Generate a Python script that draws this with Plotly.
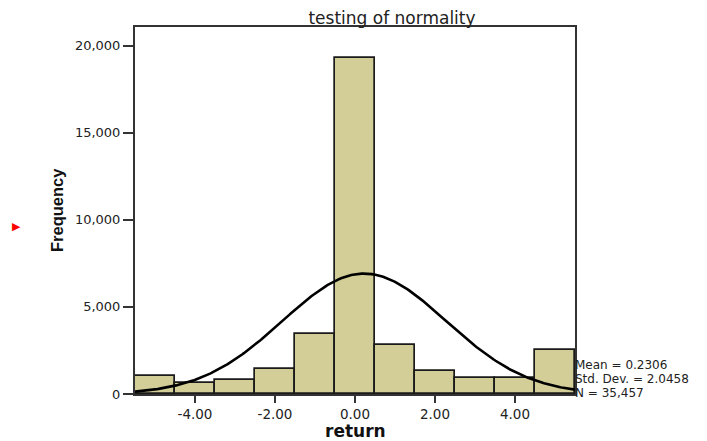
import numpy as np
import plotly.graph_objects as go

# Data
bin_centers = [-5, -4, -3, -2, -1, 0, 1, 2, 3, 4, 5]
frequencies = [1050, 615, 822, 1454, 3431, 19293, 2816, 1339, 937, 902, 2546]
bin_width = 1.0
mean_val = 0.2306
std_val = 2.0458
n_val = 35457
x_tickvals = [-4, -2, 0, 2, 4]
x_ticktext = ["-4.00", "-2.00", "0.00", "2.00", "4.00"]
y_tickvals = [0, 5000, 10000, 15000, 20000]
y_ticktext = ["0", "5,000", "10,000", "15,000", "20,000"]

# Fitted normal curve from displayed statistics
xc = np.linspace(-5.5, 5.5, 300)
yc = n_val * bin_width / (std_val * np.sqrt(2 * np.pi)) * np.exp(-0.5 * ((xc - mean_val) / std_val) ** 2)

fig = go.Figure()
fig.add_trace(go.Bar(
    x=bin_centers, y=frequencies, width=bin_width,
    marker=dict(color="#D3CE97", line=dict(color="#1a1a1a", width=1.7)),
    showlegend=False, hoverinfo="x+y"
))
fig.add_trace(go.Scatter(
    x=xc, y=yc, mode="lines", line=dict(color="black", width=2.6),
    showlegend=False, hoverinfo="skip"
))

font_main = "DejaVu Sans, Verdana, sans-serif"

# page body has an 8px offset; figure sized so plot area lands at x 135-575, y 27-394
W, H, OFF = 699, 433, 8
fig.update_layout(
    width=W, height=H,
    margin=dict(l=127, r=132, t=19, b=47),
    paper_bgcolor="white", plot_bgcolor="white",
    font=dict(family=font_main, size=13, color="#222222"),
    bargap=0,
    title=dict(text="testing of normality", x=(392 - OFF) / W, xanchor="center",
               y=1 - (18 - OFF) / H, yanchor="middle",
               font=dict(family=font_main, size=17, color="#222222")),
    xaxis=dict(range=[-5.5, 5.5], tickvals=x_tickvals, ticktext=x_ticktext,
               ticks="outside", ticklen=7, tickwidth=1.5, tickcolor="#333333",
               showline=True, linecolor="#333333", linewidth=2, mirror=True,
               showgrid=False, zeroline=False,
               tickfont=dict(family=font_main, size=13.5, color="#222222")),
    yaxis=dict(range=[0, 21075], tickvals=y_tickvals, ticktext=y_ticktext,
               ticks="outside", ticklen=10, tickwidth=1.5, tickcolor="#333333",
               showline=True, linecolor="#333333", linewidth=2, mirror=True,
               showgrid=False, zeroline=False,
               tickfont=dict(family=font_main, size=13, color="#222222")),
)

def px(xpix):
    return (xpix - 135) / 440.0

def py(ypix):
    return (394 - ypix) / 367.0

annotations = [
    dict(text="<b>return</b>", x=px(355), y=py(431), xref="paper", yref="paper",
         xanchor="center", yanchor="middle", showarrow=False,
         font=dict(family=font_main, size=17, color="#111111")),
    dict(text="<b>Frequency</b>", x=px(57), y=py(210), xref="paper", yref="paper",
         xanchor="center", yanchor="middle", showarrow=False, textangle=-90,
         font=dict(family="Liberation Sans Narrow, Arial Narrow, sans-serif", size=16.5, color="#111111")),
    dict(text="▶", x=px(16), y=py(226), xref="paper", yref="paper",
         xanchor="center", yanchor="middle", showarrow=False,
         font=dict(family="DejaVu Sans", size=11, color="red")),
]
stats_lines = ["Mean = 0.2306", "Std. Dev. = 2.0458", "N = 35,457"]
stats_y = [364.5, 378.5, 392.5]
for txt, yy in zip(stats_lines, stats_y):
    annotations.append(dict(text=txt, x=px(574), y=py(yy), xref="paper", yref="paper",
                            xanchor="left", yanchor="middle", showarrow=False,
                            borderpad=0,
                            font=dict(family=font_main, size=12, color="#222222")))
fig.update_layout(annotations=annotations)

fig.write_html("out.html")
